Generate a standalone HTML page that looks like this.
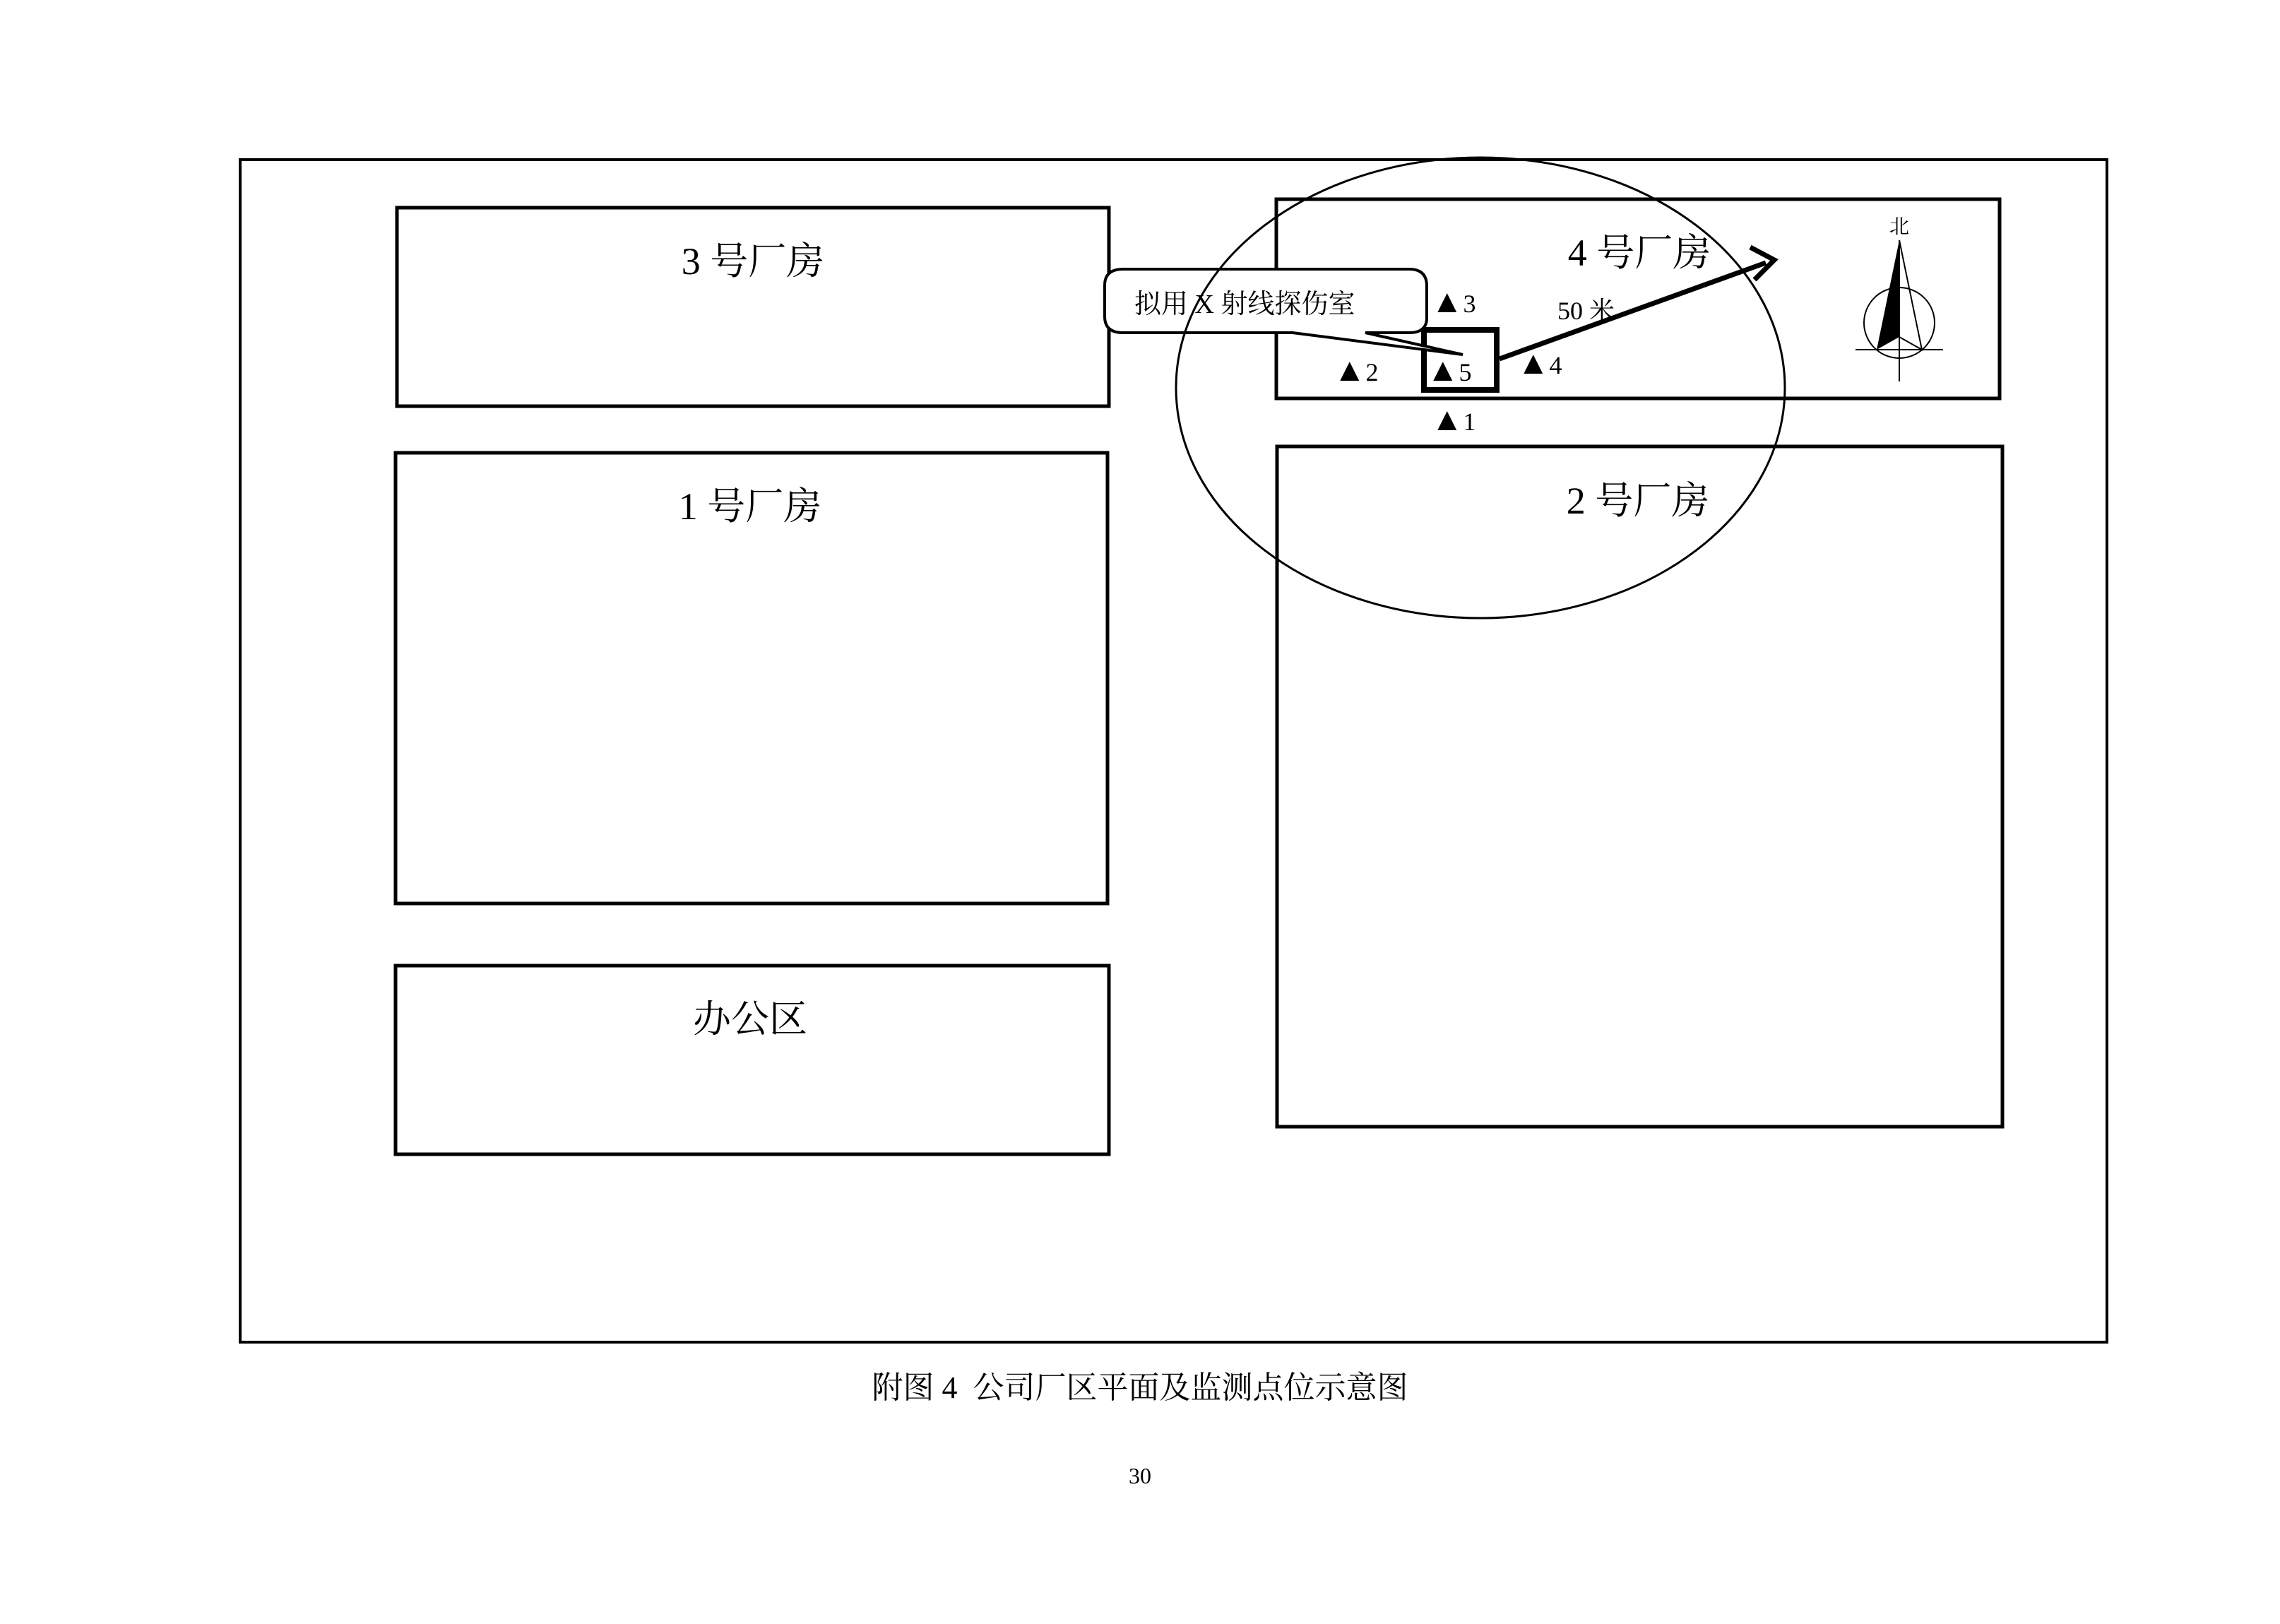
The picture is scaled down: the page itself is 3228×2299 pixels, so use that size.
<!DOCTYPE html>
<html><head><meta charset="utf-8"><style>
html,body{margin:0;padding:0;background:#fff;}
svg{display:block;}
text{font-family:"Liberation Serif","Noto Serif CJK SC","Noto Sans CJK SC",serif;fill:#000;}
</style></head><body>
<svg width="3228" height="2299" viewBox="0 0 3228 2299" xmlns="http://www.w3.org/2000/svg">
<rect x="0" y="0" width="3228" height="2299" fill="#fff"/>
<g fill="none" stroke="#000">
<rect x="340" y="226" width="2643" height="1674" stroke-width="4"/>
<rect x="562" y="294" width="1008" height="281" stroke-width="5"/>
<rect x="560" y="641" width="1008" height="638" stroke-width="5"/>
<rect x="560" y="1367" width="1010" height="267" stroke-width="5"/>
<rect x="1807" y="282" width="1024" height="282" stroke-width="5"/>
<rect x="1808" y="632" width="1027" height="963" stroke-width="5"/>
<rect x="2016" y="467" width="103" height="85" stroke-width="8"/>
</g>
<!-- callout -->
<path d="M1590,381 L1995,381 Q2020,381 2020,405 L2020,450 Q2020,471 1995,471 L1933,471 L2071,502 L1830,471 L1590,471 Q1564,471 1564,448 L1564,404 Q1564,381 1590,381 Z" fill="#fff" stroke="#000" stroke-width="4"/>
<ellipse cx="2096" cy="549" rx="431" ry="326" fill="none" stroke="#000" stroke-width="3"/>
<text x="1606" y="443" font-size="38">拟用 X 射线探伤室</text>
<!-- arrow -->
<line x1="2123" y1="508" x2="2500" y2="372" stroke="#000" stroke-width="7"/>
<polyline points="2478,350 2512,368 2484,396" fill="none" stroke="#000" stroke-width="7"/>
<text x="2205" y="452" font-size="36">50 米</text>
<g font-size="36">
<text x="2026" y="442"><tspan font-size="46">▲</tspan>3</text>
<text x="1888" y="539"><tspan font-size="46">▲</tspan>2</text>
<text x="2020" y="539"><tspan font-size="46">▲</tspan>5</text>
<text x="2148" y="529"><tspan font-size="46">▲</tspan>4</text>
<text x="2026" y="609"><tspan font-size="46">▲</tspan>1</text>
</g>
<!-- compass -->
<text x="2689" y="330" font-size="28" text-anchor="middle">北</text>
<line x1="2689" y1="340" x2="2689" y2="540" stroke="#000" stroke-width="2"/>
<ellipse cx="2689" cy="457" rx="50" ry="50" fill="none" stroke="#000" stroke-width="2"/>
<line x1="2627" y1="495" x2="2751" y2="495" stroke="#000" stroke-width="2"/>
<polygon points="2689,340 2657,495 2689,477" fill="#000"/>
<polyline points="2689,340 2721,495 2689,477" fill="none" stroke="#000" stroke-width="2"/>
<!-- labels -->
<g font-size="54" text-anchor="middle">
<text x="1066" y="388">3 号厂房</text>
<text x="1062" y="735">1 号厂房</text>
<text x="1062" y="1461">办公区</text>
<text x="2321" y="376">4 号厂房</text>
<text x="2319" y="727">2 号厂房</text>
</g>
<text x="1614" y="1979" font-size="44" text-anchor="middle">附图 4&#160;&#160;公司厂区平面及监测点位示意图</text>
<text x="1614" y="2100" font-size="32" text-anchor="middle">30</text>
</svg>
</body></html>
